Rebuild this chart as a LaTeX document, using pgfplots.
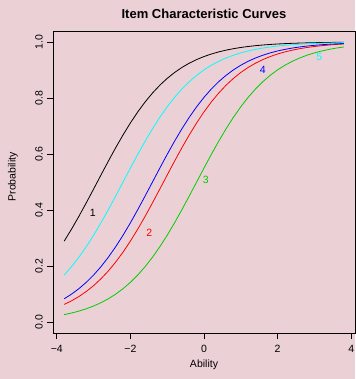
\documentclass[border=0pt]{standalone}
\usepackage{pgfplots}
\usepackage{pgfplotstable}
\pgfplotsset{compat=1.18}
\usepackage{fontspec}
\setmainfont{Liberation Sans}
\definecolor{bg}{RGB}{235,209,214}
\definecolor{rgreen}{RGB}{0,205,0}
\definecolor{rcyan}{RGB}{0,255,255}
\pgfplotstableread{
x c1 c2 c3 c4 c5
-3.8 0.28905 0.06297 0.02660 0.08317 0.16798
-3.6 0.33181 0.07586 0.03230 0.09975 0.19782
-3.4 0.37754 0.09113 0.03917 0.11920 0.23148
-3.2 0.42556 0.10910 0.04743 0.14185 0.26894
-3.0 0.47502 0.13011 0.05733 0.16798 0.31003
-2.8 0.52498 0.15447 0.06914 0.19782 0.35434
-2.6 0.57444 0.18243 0.08317 0.23148 0.40131
-2.4 0.62246 0.21417 0.09975 0.26894 0.45017
-2.2 0.66819 0.24974 0.11920 0.31003 0.50000
-2.0 0.71095 0.28905 0.14185 0.35434 0.54983
-1.8 0.75026 0.33181 0.16798 0.40131 0.59869
-1.6 0.78583 0.37754 0.19782 0.45017 0.64566
-1.4 0.81757 0.42556 0.23148 0.50000 0.68997
-1.2 0.84553 0.47502 0.26894 0.54983 0.73106
-1.0 0.86989 0.52498 0.31003 0.59869 0.76852
-0.8 0.89090 0.57444 0.35434 0.64566 0.80218
-0.6 0.90887 0.62246 0.40131 0.68997 0.83202
-0.4 0.92414 0.66819 0.45017 0.73106 0.85815
-0.2 0.93703 0.71095 0.50000 0.76852 0.88080
0.0 0.94784 0.75026 0.54983 0.80218 0.90025
0.2 0.95689 0.78583 0.59869 0.83202 0.91683
0.4 0.96443 0.81757 0.64566 0.85815 0.93086
0.6 0.97069 0.84553 0.68997 0.88080 0.94267
0.8 0.97587 0.86989 0.73106 0.90025 0.95257
1.0 0.98016 0.89090 0.76852 0.91683 0.96083
1.2 0.98370 0.90887 0.80218 0.93086 0.96770
1.4 0.98661 0.92414 0.83202 0.94267 0.97340
1.6 0.98901 0.93703 0.85815 0.95257 0.97812
1.8 0.99099 0.94784 0.88080 0.96083 0.98201
2.0 0.99261 0.95689 0.90025 0.96770 0.98522
2.2 0.99394 0.96443 0.91683 0.97340 0.98787
2.4 0.99503 0.97069 0.93086 0.97812 0.99005
2.6 0.99593 0.97587 0.94267 0.98201 0.99184
2.8 0.99666 0.98016 0.95257 0.98522 0.99331
3.0 0.99727 0.98370 0.96083 0.98787 0.99451
3.2 0.99776 0.98661 0.96770 0.99005 0.99550
3.4 0.99817 0.98901 0.97340 0.99184 0.99632
3.6 0.99850 0.99099 0.97812 0.99331 0.99698
3.8 0.99877 0.99261 0.98201 0.99451 0.99753
}\icc
\begin{document}
\begin{tikzpicture}
\fill[bg] (-53pt,-46pt) rectangle (302pt,333pt);
\useasboundingbox (-53pt,-46pt) rectangle (302pt,333pt);
\begin{axis}[
  anchor=south west, at={(0pt,0pt)},
  scale only axis, width=302pt, height=302pt,
  xmin=-4.104, xmax=4.104, ymin=-0.039, ymax=1.039,
  axis line style={black, line width=0.8pt},
  tick align=outside, major tick length=6pt,
  tick style={black, line width=0.8pt},
  xtick={-4,-2,0,2,4}, xticklabels={−4,−2,0,2,4},
  ytick={0,0.2,0.4,0.6,0.8,1.0}, yticklabels={0.0,0.2,0.4,0.6,0.8,1.0},
  xtick pos=bottom, ytick pos=left,
  tick label style={font=\fontsize{10.5}{12}\selectfont},
  xticklabel style={anchor=center, yshift=-10pt},
  yticklabel style={rotate=90, anchor=center, yshift=8pt},
  title={Item Characteristic Curves},
  title style={font=\bfseries\fontsize{13}{15}\selectfont, at={(axis description cs:0.5,1.0364)}, anchor=center, yshift=0pt},
  xlabel={Ability}, ylabel={Probability},
  label style={font=\fontsize{10.5}{12}\selectfont},
  xlabel style={at={(axis description cs:0.5,-0.106)}, anchor=center},
  ylabel style={at={(axis description cs:-0.1325,0.5166)}, anchor=center},
  clip=false,
]
\addplot[black, line width=0.8pt] table[x=x,y=c1]{\icc};
\addplot[red, line width=0.8pt] table[x=x,y=c2]{\icc};
\addplot[rgreen, line width=0.8pt] table[x=x,y=c3]{\icc};
\addplot[blue, line width=0.8pt] table[x=x,y=c4]{\icc};
\addplot[rcyan, line width=0.8pt] table[x=x,y=c5]{\icc};
\node[black, font=\fontsize{10.5}{12}\selectfont] at (axis cs:-3.02,0.39) {1};
\node[red, font=\fontsize{10.5}{12}\selectfont] at (axis cs:-1.49,0.32) {2};
\node[rgreen, font=\fontsize{10.5}{12}\selectfont] at (axis cs:0.05,0.507) {3};
\node[blue, font=\fontsize{10.5}{12}\selectfont] at (axis cs:1.6,0.9) {4};
\node[rcyan, font=\fontsize{10.5}{12}\selectfont] at (axis cs:3.13,0.946) {5};
\end{axis}
\end{tikzpicture}
\end{document}
